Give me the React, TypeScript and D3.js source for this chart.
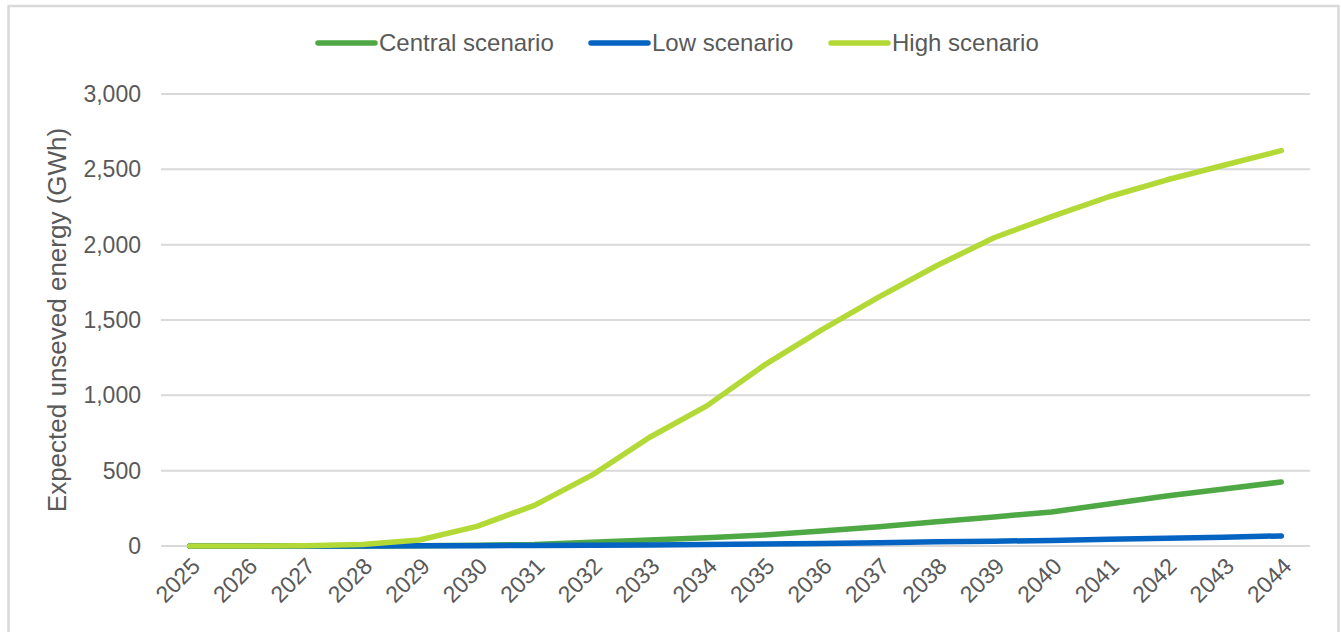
import React from "react";
import * as d3 from "d3";

const years = [
  "2025", "2026", "2027", "2028", "2029", "2030", "2031", "2032", "2033", "2034",
  "2035", "2036", "2037", "2038", "2039", "2040", "2041", "2042", "2043", "2044",
];
const central = [0, 0, 0, 0, 2, 5, 10, 25, 40, 55, 73, 100, 128, 161, 193, 226, 279, 332, 378, 425];
const low = [0, 0, 0, 0, 1, 2, 3, 5, 7, 10, 13, 17, 22, 28, 32, 37, 44, 51, 58, 67];
const high = [0, 0, 2, 10, 40, 130, 270, 470, 720, 930, 1200, 1434, 1653, 1860, 2046, 2186, 2318, 2429, 2527, 2624];
const yTicks = [0, 500, 1000, 1500, 2000, 2500, 3000];
const seriesNames = ["Central scenario", "Low scenario", "High scenario"];
const seriesColors = ["#4EA843", "#0563C1", "#B2D935"];

const W = 1341;
const H = 632;
const left = 161;
const right = 1310;
const top = 94;
const bottom = 546;
const font = "'Liberation Sans', Arial, sans-serif";
const textColor = "#595959";

export default function App() {
  const x = d3.scaleBand<string>().domain(years).range([left, right]);
  const y = d3.scaleLinear().domain([0, 3000]).range([bottom, top]);
  const line = d3
    .line<number>()
    .x((_, i) => (x(years[i]) as number) + x.bandwidth() / 2)
    .y((d) => y(d));
  const data = [central, low, high];
  const legendX = [318, 591, 831];

  return (
    <svg
      width={W}
      height={H}
      style={{ position: "absolute", left: 0, top: 0, background: "#fff" }}
      fontFamily={font}
    >
      <rect x={8.5} y={6} width={1330} height={640} fill="#fff" stroke="#D9D9D9" strokeWidth={2.5} />
      {yTicks.map((t) => (
        <g key={t}>
          <line x1={left} x2={right} y1={y(t)} y2={y(t)} stroke="#D9D9D9" strokeWidth={2} />
          <text x={141} y={y(t)} dy="0.35em" textAnchor="end" fontSize={23} fill={textColor}>
            {d3.format(",")(t)}
          </text>
        </g>
      ))}
      {years.map((yr) => {
        const cx = (x(yr) as number) + x.bandwidth() / 2;
        return (
          <text
            key={yr}
            transform={`translate(${cx + 6},${bottom + 16}) rotate(-45)`}
            textAnchor="end"
            dy="0.35em"
            fontSize={23}
            fill={textColor}
          >
            {yr}
          </text>
        );
      })}
      <text
        transform={`translate(66,${(top + bottom) / 2}) rotate(-90)`}
        textAnchor="middle"
        fontSize={26}
        fill={textColor}
      >
        Expected unseved energy (GWh)
      </text>
      {data.map((d, i) => (
        <path
          key={seriesNames[i]}
          d={line(d) || ""}
          fill="none"
          stroke={seriesColors[i]}
          strokeWidth={5.5}
          strokeLinecap="round"
          strokeLinejoin="round"
        />
      ))}
      {seriesNames.map((n, i) => (
        <g key={n}>
          <line
            x1={legendX[i]}
            x2={legendX[i] + 57}
            y1={43}
            y2={43}
            stroke={seriesColors[i]}
            strokeWidth={5.5}
            strokeLinecap="round"
          />
          <text x={legendX[i] + 61} y={43} dy="0.35em" fontSize={24} fill={textColor}>
            {n}
          </text>
        </g>
      ))}
    </svg>
  );
}
